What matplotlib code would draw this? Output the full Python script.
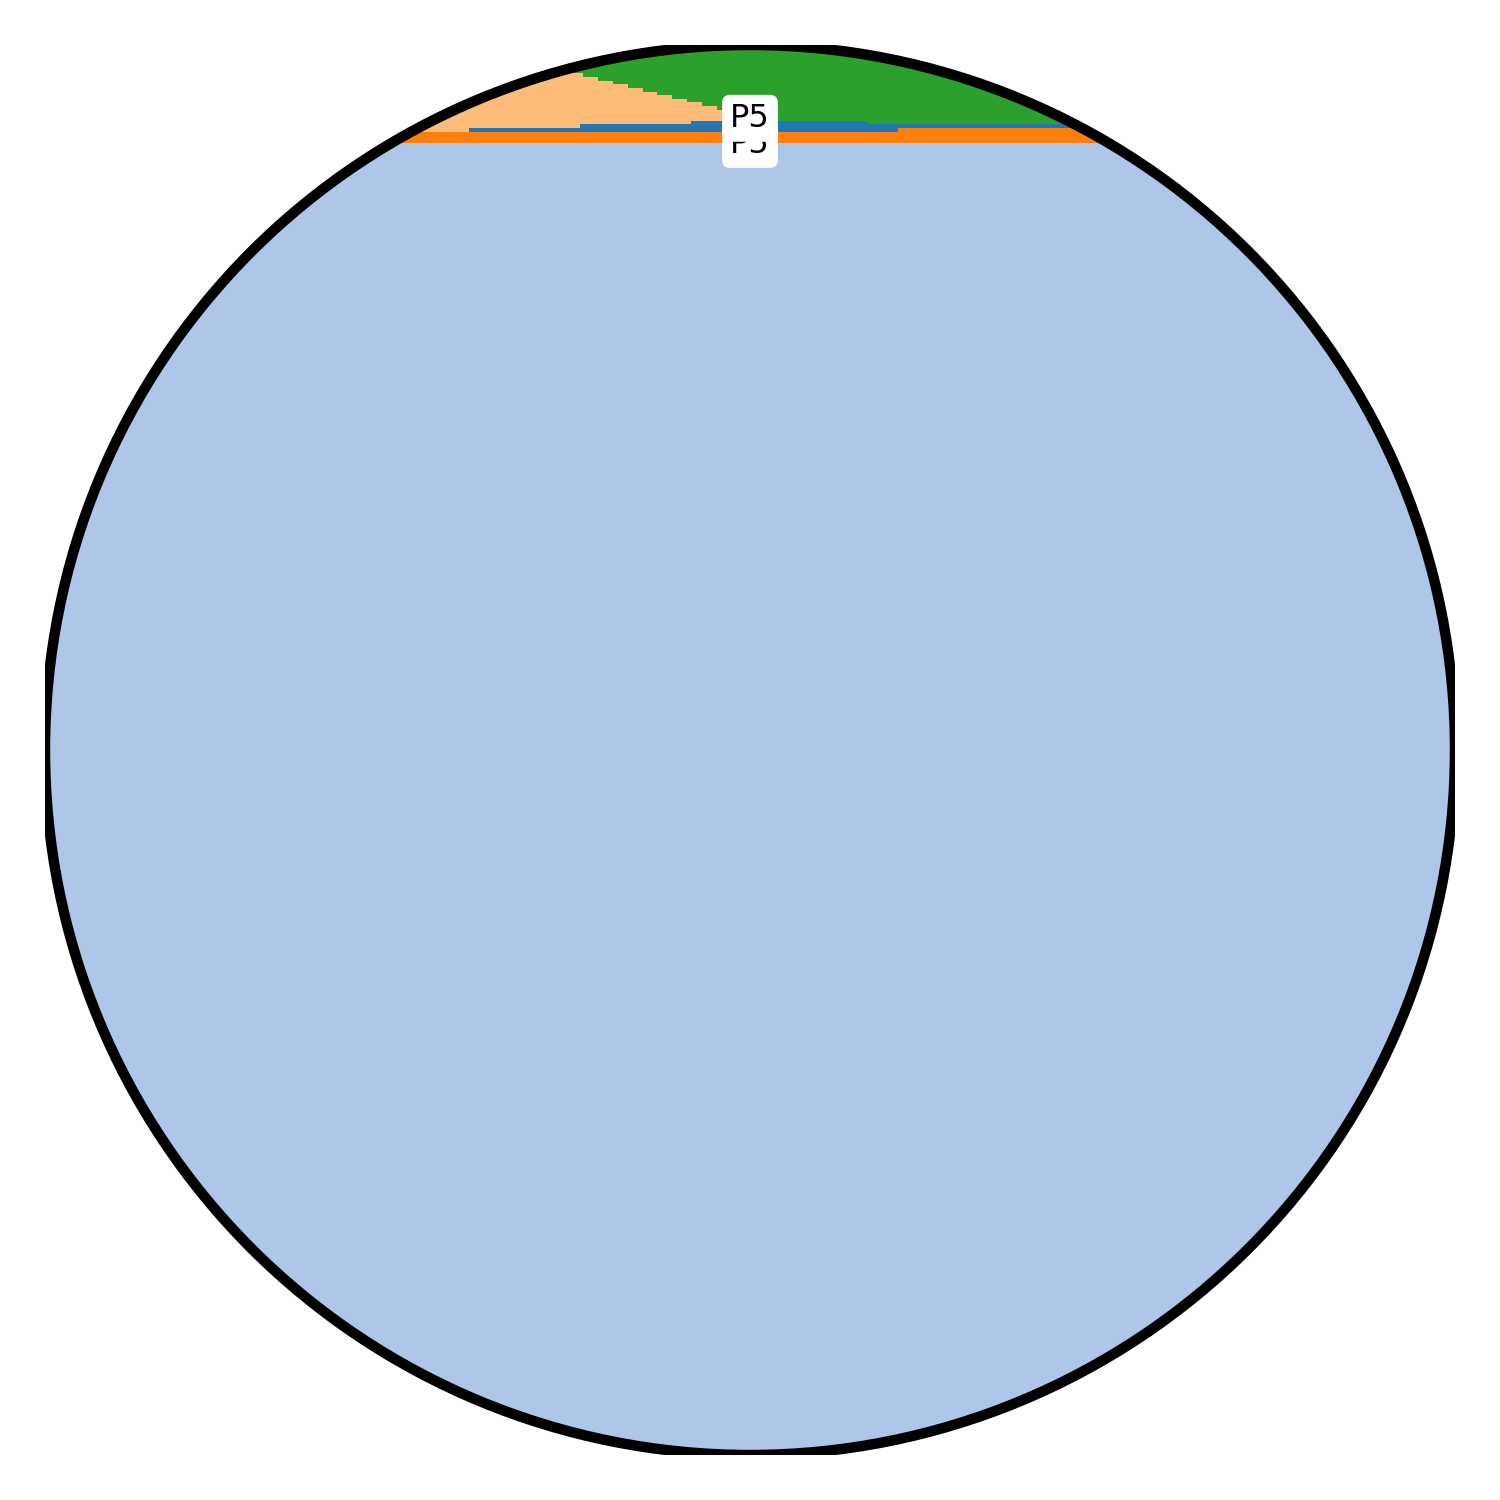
import numpy as np
import matplotlib
matplotlib.use("Agg")
import matplotlib.pyplot as plt
from matplotlib.patches import Circle

# interval edges along x (0..100 across the panel)
edges = [0, 30.07, 37.09, 37.94, 38.16, 39.22, 40.28, 41.35, 42.41, 43.40, 44.47,
         45.53, 45.82, 46.60, 47.66, 48.72, 49.79, 50.85, 58.37, 60.50, 100]

# stacked shares per interval (each column sums to 100)
light_blue = [93.05, 93.05, 93.05, 93.05, 93.05, 93.05, 93.05, 93.05, 93.05, 93.05,
              93.05, 93.05, 93.05, 93.05, 93.05, 93.05, 93.05, 93.05, 93.05, 93.05]
orange = [0.78, 0.78, 0.78, 0.78, 0.78, 0.78, 0.78, 0.78, 0.78, 0.78,
          0.78, 0.78, 0.78, 0.78, 0.78, 0.78, 0.78, 0.78, 0.78, 1.06]
blue = [0.00, 0.28, 0.28, 0.57, 0.57, 0.57, 0.57, 0.57, 0.57, 0.57,
        0.57, 0.57, 0.78, 0.78, 0.78, 0.78, 0.78, 0.78, 0.57, 0.29]
light_orange = [6.17, 5.89, 3.89, 3.60, 3.35, 3.07, 2.82, 2.57, 2.29, 2.05,
                1.79, 1.54, 1.33, 1.06, 0.78, 0.52, 0.25, 0.00, 0.00, 0.00]
green = [0.00, 0.00, 2.00, 2.00, 2.25, 2.53, 2.78, 3.03, 3.31, 3.55,
         3.81, 4.06, 4.06, 4.33, 4.61, 4.87, 5.14, 5.39, 5.60, 5.60]

layers = [light_blue, orange, blue, light_orange, green]
colors = ["#aec7e8", "#ff7f0e", "#1f77b4", "#ffbb78", "#2ca02c"]

labels = ["P5", "P5"]
label_y = [92.95, 94.8]

fig = plt.figure(figsize=(15, 15), dpi=100)
ax = fig.add_axes([0.03, 0.03, 0.94, 0.94])
ax.set_xlim(0, 100)
ax.set_ylim(0, 100)
ax.axis("off")

clip = Circle((50, 50), 50, transform=ax.transData, fc="none", ec="none")
ax.add_patch(clip)

x = np.array(edges)
bottom = np.zeros(len(edges) - 1)
for vals, col in zip(layers, colors):
    v = np.array(vals)
    top = bottom + v
    b_ext = np.append(bottom, bottom[-1])
    t_ext = np.append(top, top[-1])
    poly = ax.fill_between(x, b_ext, t_ext, step="post", color=col, linewidth=0, zorder=1)
    poly.set_clip_path(clip)
    bottom = top

ring = Circle((50, 50), 50, fc="none", ec="black", lw=7.5, zorder=3)
ax.add_patch(ring)

for i, (lab, yy) in enumerate(zip(labels, label_y)):
    ax.text(50, yy, lab, ha="center", va="center", fontsize=23, color="black",
            bbox=dict(boxstyle="round,pad=0.25", fc="white", ec="none"), zorder=4 + i)

fig.savefig("out.png", dpi=100)
